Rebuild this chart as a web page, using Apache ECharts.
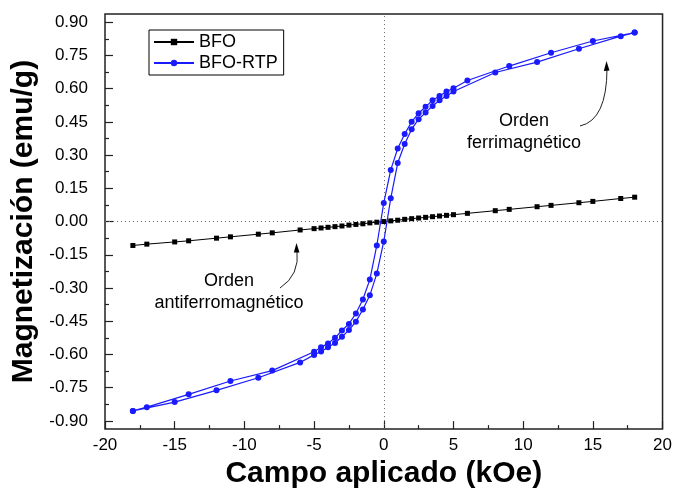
<!DOCTYPE html>
<html>
<head>
<meta charset="utf-8">
<script src="https://cdn.jsdelivr.net/npm/echarts@6/dist/echarts.min.js"></script>
<style>
html, body { margin: 0; padding: 0; background: #fff; }
#chart { width: 675px; height: 494px; }
</style>
</head>
<body>
<div id="chart"></div>
<script>
// BFO (linear, antiferromagnetic)
var bfoField = [-18, -17, -15, -14, -12, -11, -9, -8, -6, -5, -4.5, -4, -3.5, -3, -2.5, -2, -1.5, -1, -0.5, 0,
    0.5, 1, 1.5, 2, 2.5, 3, 3.5, 4, 4.5, 5, 6, 8, 9, 11, 12, 14, 15, 17, 18];
var bfoMag = [-0.108, -0.102, -0.092, -0.087, -0.075, -0.069, -0.057, -0.051, -0.038, -0.032, -0.029, -0.026, -0.023, -0.020, -0.016, -0.013, -0.010, -0.006, -0.003, 0.000,
    0.003, 0.006, 0.010, 0.013, 0.016, 0.019, 0.022, 0.025, 0.028, 0.031, 0.037, 0.049, 0.055, 0.067, 0.073, 0.085, 0.091, 0.104, 0.110];

// BFO-RTP loop, descending branch (+18 -> -18)
var rtpDownField = [18, 15, 12, 9, 6, 5, 4.5, 4, 3.5, 3, 2.5, 2, 1.5, 1, 0.5, 0,
    -0.5, -1, -1.5, -2, -2.5, -3, -3.5, -4, -4.5, -5, -8, -11, -14, -17, -18];
var rtpDownMag = [0.853, 0.815, 0.762, 0.702, 0.637, 0.602, 0.587, 0.567, 0.548, 0.518, 0.489, 0.450, 0.395, 0.330, 0.233, 0.084,
    -0.108, -0.262, -0.352, -0.415, -0.462, -0.492, -0.525, -0.550, -0.568, -0.588, -0.673, -0.720, -0.780, -0.838, -0.855];

// BFO-RTP loop, ascending branch (-18 -> +18)
var rtpUpField = [-18, -15, -12, -9, -6, -5, -4.5, -4, -3.5, -3, -2.5, -2, -1.5, -1, -0.5, 0,
    0.5, 1, 1.5, 2, 2.5, 3, 3.5, 4, 4.5, 5, 8, 11, 14, 17, 18];
var rtpUpMag = [-0.855, -0.815, -0.762, -0.705, -0.636, -0.602, -0.587, -0.568, -0.548, -0.520, -0.490, -0.452, -0.397, -0.333, -0.235, -0.090,
    0.105, 0.264, 0.350, 0.417, 0.462, 0.492, 0.522, 0.548, 0.567, 0.587, 0.673, 0.720, 0.780, 0.837, 0.853];

var yTicks = [-0.9, -0.75, -0.6, -0.45, -0.3, -0.15, 0, 0.15, 0.3, 0.45, 0.6, 0.75, 0.9];
var yMinorTicks = [-0.825, -0.675, -0.525, -0.375, -0.225, -0.075, 0.075, 0.225, 0.375, 0.525, 0.675, 0.825];

var font = '"Liberation Sans", Arial, sans-serif';

function pairs(xs, ys) {
    return xs.map(function (x, i) { return [x, ys[i]]; });
}

var chart = echarts.init(document.getElementById('chart'));

chart.setOption({
    animation: false,
    backgroundColor: '#fff',
    textStyle: { fontFamily: font },
    grid: {
        left: 105, right: 12, top: 14, bottom: 63,
        show: true, borderColor: '#222', borderWidth: 1.5, backgroundColor: '#fff'
    },
    legend: {
        left: 149, top: 30,
        orient: 'vertical',
        data: ['BFO', 'BFO-RTP'],
        borderColor: '#000', borderWidth: 1, borderRadius: 0,
        padding: [3, 6, 3, 4],
        itemWidth: 40, itemHeight: 8, itemGap: 3,
        textStyle: { fontSize: 18, color: '#000', fontFamily: font }
    },
    xAxis: {
        type: 'value', min: -20, max: 20, interval: 5,
        name: 'Campo aplicado (kOe)', nameLocation: 'middle', nameGap: 21,
        nameTextStyle: { fontSize: 30, fontWeight: 'bold', color: '#000', fontFamily: font },
        axisLine: { show: false, onZero: false },
        axisTick: { inside: true, length: 8, lineStyle: { color: '#222', width: 1.2 } },
        minorTick: { show: true, splitNumber: 2, length: 4, lineStyle: { color: '#222', width: 1.2 } },
        splitLine: { show: false },
        axisLabel: { fontSize: 17, color: '#000', margin: 8, fontFamily: font }
    },
    yAxis: [{
        type: 'value', min: -0.937, max: 0.937,
        name: 'Magnetización (emu/g)', nameLocation: 'middle', nameGap: 65,
        nameTextStyle: { fontSize: 30, fontWeight: 'bold', color: '#000', fontFamily: font },
        axisLine: { show: false, onZero: false },
        axisTick: { inside: true, length: 8, customValues: yTicks, lineStyle: { color: '#222', width: 1.2 } },
        splitLine: { show: false },
        axisLabel: {
            fontSize: 17, color: '#000', margin: 17, fontFamily: font,
            customValues: yTicks,
            formatter: function (v) { return v.toFixed(2); }
        }
    }, {
        type: 'value', min: -0.937, max: 0.937, position: 'left',
        axisLine: { show: false, onZero: false },
        axisTick: { inside: true, length: 4, customValues: yMinorTicks, lineStyle: { color: '#222', width: 1.2 } },
        axisLabel: { show: false },
        splitLine: { show: false }
    }],
    series: [{
        name: 'BFO',
        type: 'line',
        data: pairs(bfoField, bfoMag),
        symbol: 'rect', symbolSize: 5,
        itemStyle: { color: '#000' },
        lineStyle: { color: '#000', width: 1 },
        z: 3,
        markLine: {
            silent: true,
            symbol: ['none', 'none'],
            label: { show: false },
            lineStyle: { color: '#666', type: [1, 3], width: 1 },
            data: [{ xAxis: 0 }, { yAxis: 0 }],
            z: 1
        }
    }, {
        name: 'BFO-RTP',
        type: 'line',
        data: pairs(rtpDownField, rtpDownMag).concat(pairs(rtpUpField, rtpUpMag)),
        symbol: 'circle', symbolSize: 6,
        itemStyle: { color: '#1a1aff' },
        lineStyle: { color: '#1a1aff', width: 1.2 },
        z: 4
    }],
    graphic: [
        { type: 'text', x: 524, y: 121, style: { text: 'Orden', fontSize: 18, fontFamily: font, fill: '#000', align: 'center', verticalAlign: 'middle' } },
        { type: 'text', x: 524, y: 143, style: { text: 'ferrimagnético', fontSize: 18, fontFamily: font, fill: '#000', align: 'center', verticalAlign: 'middle' } },
        { type: 'bezierCurve', shape: { x1: 580, y1: 126, x2: 607, y2: 68, cpx1: 607, cpy1: 120 }, style: { stroke: '#222', lineWidth: 1, fill: null } },
        { type: 'polygon', shape: { points: [[606.5, 61], [603.8, 71], [609.5, 70.5]] }, style: { fill: '#000' } },
        { type: 'text', x: 229, y: 281, style: { text: 'Orden', fontSize: 18, fontFamily: font, fill: '#000', align: 'center', verticalAlign: 'middle' } },
        { type: 'text', x: 229, y: 303, style: { text: 'antiferromagnético', fontSize: 18, fontFamily: font, fill: '#000', align: 'center', verticalAlign: 'middle' } },
        { type: 'bezierCurve', shape: { x1: 280, y1: 288, x2: 297, y2: 250, cpx1: 300, cpy1: 275 }, style: { stroke: '#222', lineWidth: 1, fill: null } },
        { type: 'polygon', shape: { points: [[296.5, 243], [293.8, 252.5], [299.5, 252.5]] }, style: { fill: '#000' } }
    ]
});

window.addEventListener('resize', function () {
    chart.resize();
});
</script>
</body>
</html>
